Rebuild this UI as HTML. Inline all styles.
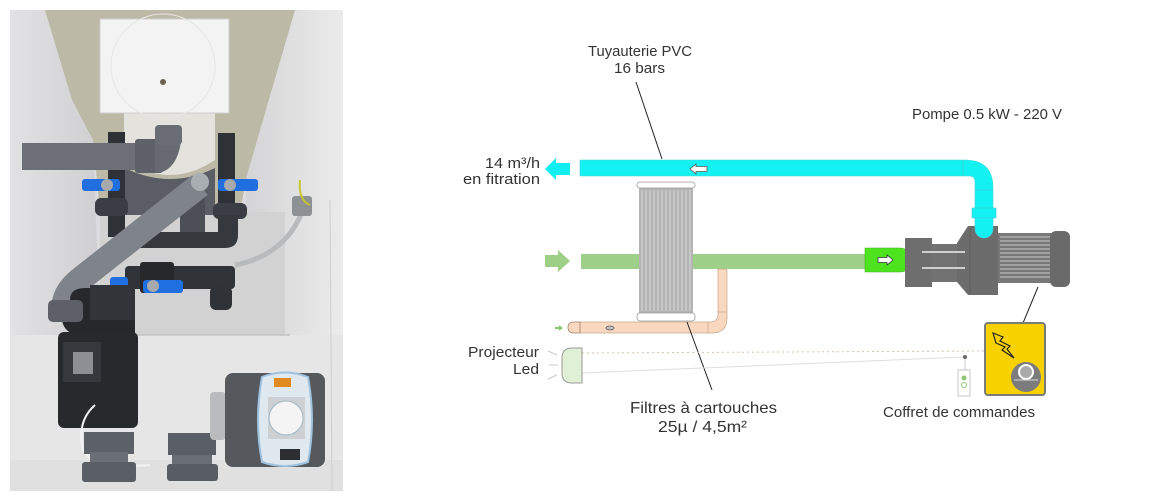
<!DOCTYPE html>
<html><head><meta charset="utf-8"><style>
html,body{margin:0;padding:0;background:#fff;width:1158px;height:501px;overflow:hidden}
svg{display:block}
text{font-family:"Liberation Sans",sans-serif;fill:#333}
</style></head><body>
<svg width="1158" height="501" viewBox="0 0 1158 501" xmlns="http://www.w3.org/2000/svg">
<!-- PHOTO -->
<defs>
<clipPath id="ph"><rect x="10" y="10" width="333" height="481"/></clipPath>
<linearGradient id="lw" x1="0" x2="1"><stop offset="0" stop-color="#e2e2e4"/><stop offset="1" stop-color="#cfcfd2"/></linearGradient>
<linearGradient id="rw" x1="0" x2="1"><stop offset="0" stop-color="#d4d4d6"/><stop offset="1" stop-color="#ebebeb"/></linearGradient>
</defs>
<g clip-path="url(#ph)">
<rect x="10" y="10" width="333" height="481" fill="#dcdcde"/>
<polygon points="10,10 45,10 72,100 93,140 100,330 50,491 10,491" fill="url(#lw)"/>
<polygon points="295,10 343,10 343,491 290,491 285,335 245,215 247,175" fill="url(#rw)"/>
<polygon points="45,10 295,10 247,175 240,212 100,212 93,140 72,100" fill="#bcb9a6"/>
<rect x="100" y="212" width="185" height="123" fill="#d2d2d3"/>
<rect x="10" y="335" width="333" height="156" fill="#e6e6e7"/>
<rect x="10" y="460" width="333" height="31" fill="#e0e0e1"/>
<line x1="135" y1="335" x2="290" y2="335" stroke="#c4c4c4" stroke-width="1.5"/>
<line x1="330" y1="200" x2="332" y2="491" stroke="#cfcfcf"/>
<!-- lid + cylinder -->
<path d="M124 113 H215 V160 Q170 190 124 160 Z" fill="#e4e2dc"/>
<rect x="100" y="19" width="129" height="94" fill="#f3f3f3" stroke="#cfcfcf"/>
<circle cx="163" cy="66" r="52" fill="none" stroke="#e6e6e6"/>
<circle cx="163" cy="82" r="3" fill="#6b6350"/>
<!-- filter base -->
<path d="M125 168 Q170 190 215 168 V215 H125 Z" fill="#5a5e64"/>
<rect x="180" y="195" width="25" height="50" fill="#4c5056"/>
<!-- dark pipes -->
<rect x="108" y="132" width="17" height="105" fill="#2e3135"/>
<rect x="218" y="133" width="17" height="90" fill="#2e3135"/>
<rect x="95" y="198" width="33" height="18" rx="6" fill="#3a3e44"/>
<rect x="213" y="203" width="34" height="16" rx="6" fill="#3a3e44"/>
<path d="M218 215 H238 V235 Q238 248 225 248 H140 V232 H218 Z" fill="#35393e"/>
<rect x="125" y="266" width="110" height="23" rx="4" fill="#303338"/>
<rect x="140" y="262" width="34" height="31" rx="3" fill="#26282b"/>
<rect x="210" y="286" width="22" height="24" rx="6" fill="#2f3236"/>
<!-- grey horizontal pipe -->
<rect x="22" y="143" width="135" height="27" fill="#6c7076"/>
<rect x="135" y="139" width="28" height="34" rx="3" fill="#5e6268"/>
<path d="M155 139 H182 V125 Q182 165 162 172 H155 Z" fill="#676b71"/>
<rect x="155" y="125" width="27" height="20" rx="4" fill="#6a6e74"/>
<!-- diagonal clear pipe -->
<path d="M200 185 L82 278 Q58 296 66 318" fill="none" stroke="#7f848b" stroke-width="25" stroke-linecap="butt"/>
<circle cx="200" cy="182" r="9" fill="#a9aeb3"/>
<!-- blue valve handles -->
<rect x="82" y="179" width="38" height="12" rx="3" fill="#1f6fe0"/>
<circle cx="107" cy="185" r="6" fill="#a7a9ad"/>
<rect x="218" y="179" width="40" height="12" rx="3" fill="#1f6fe0"/>
<circle cx="230" cy="185" r="6" fill="#a7a9ad"/>
<rect x="110" y="277" width="18" height="11" rx="3" fill="#1f6fe0"/>
<rect x="143" y="280" width="40" height="13" rx="3" fill="#1f6fe0"/>
<circle cx="153" cy="286" r="6" fill="#a7a9ad"/>
<!-- grey hose -->
<path d="M235 265 Q285 255 302 212" fill="none" stroke="#b8babc" stroke-width="5"/>
<rect x="292" y="196" width="20" height="20" rx="3" fill="#8e9194"/>
<path d="M300 180 Q298 200 310 205" fill="none" stroke="#c6c630" stroke-width="2"/>
<!-- pump head -->
<path d="M70 300 Q70 288 85 288 H135 V335 H75 Q62 330 62 318 Z" fill="#26282b"/>
<rect x="90" y="285" width="45" height="35" fill="#313438"/>
<rect x="48" y="300" width="35" height="22" rx="5" fill="#5d6167"/>
<!-- motor -->
<rect x="58" y="332" width="80" height="96" rx="6" fill="#27292c"/>
<rect x="63" y="342" width="38" height="40" fill="#35383c"/>
<rect x="73" y="352" width="20" height="22" fill="#8c8f93"/>
<path d="M95 405 Q78 420 82 445 Q85 470 150 465" fill="none" stroke="#f3f3f3" stroke-width="2"/>
<!-- fittings -->
<rect x="84" y="432" width="50" height="22" fill="#5c6168"/>
<rect x="90" y="452" width="38" height="10" fill="#6a6f75"/>
<rect x="82" y="462" width="54" height="20" rx="3" fill="#5a5f66"/>
<rect x="168" y="433" width="48" height="22" fill="#5a5f66"/>
<rect x="172" y="455" width="40" height="10" fill="#6a6f75"/>
<rect x="167" y="464" width="51" height="17" rx="3" fill="#585d64"/>
<!-- control box -->
<rect x="210" y="392" width="16" height="48" rx="4" fill="#b9bbbe"/>
<rect x="225" y="373" width="100" height="94" rx="8" fill="#55595e"/>
<path d="M262 377 Q285 368 308 377 Q316 420 308 462 Q285 470 262 462 Q254 420 262 377 Z" fill="#dfe7ef" stroke="#9fc3df" stroke-width="2"/>
<rect x="274" y="378" width="17" height="9" fill="#e08a20"/>
<rect x="268" y="397" width="37" height="42" fill="#cdd0d2"/>
<circle cx="286" cy="418" r="17" fill="#f4f4f4" stroke="#9fb7c8"/>
<rect x="280" y="449" width="20" height="11" fill="#2c2e31"/>
</g>

<!-- DIAGRAM -->
<!-- labels -->
<text x="588" y="56" font-size="15" textLength="104" lengthAdjust="spacingAndGlyphs">Tuyauterie PVC</text>
<text x="614" y="73" font-size="15" textLength="51" lengthAdjust="spacingAndGlyphs">16 bars</text>
<line x1="636" y1="82" x2="662" y2="159" stroke="#222" stroke-width="1"/>
<text x="485" y="168" font-size="15" textLength="55" lengthAdjust="spacingAndGlyphs">14 m³/h</text>
<text x="463" y="184" font-size="15" textLength="77" lengthAdjust="spacingAndGlyphs">en fitration</text>
<text x="912" y="119" font-size="15" textLength="150" lengthAdjust="spacingAndGlyphs">Pompe 0.5 kW - 220 V</text>
<text x="468" y="357" font-size="15" textLength="71" lengthAdjust="spacingAndGlyphs">Projecteur</text>
<text x="513" y="374" font-size="15" textLength="26" lengthAdjust="spacingAndGlyphs">Led</text>
<text x="630" y="413" font-size="16" textLength="147" lengthAdjust="spacingAndGlyphs">Filtres à cartouches</text>
<text x="658" y="432" font-size="16" textLength="89" lengthAdjust="spacingAndGlyphs">25µ / 4,5m²</text>
<text x="883" y="417" font-size="15" textLength="152" lengthAdjust="spacingAndGlyphs">Coffret de commandes</text>

<!-- cyan pipe -->
<polygon points="545,169 556,158 556,163 570,163 570,175 556,175 556,180" fill="#12eef0"/>
<path d="M580 160 H965 Q993 160 993 188 V208 H975 V182 Q975 176 969 176 H580 Z" fill="#14f1f3" stroke="#3fd6d8" stroke-width="0.6"/>
<line x1="963" y1="160" x2="963" y2="176" stroke="#3ccfd1" stroke-width="0.8"/>
<line x1="975" y1="190" x2="993" y2="190" stroke="#3ccfd1" stroke-width="0.8"/>
<polygon points="690,169 696,164 696,166.5 707,166.5 707,171.5 696,171.5 696,174" fill="#fff" stroke="#555" stroke-width="0.8"/>

<!-- green pipe -->
<polygon points="570,261 558,250 558,255 545,255 545,267 558,267 558,272" fill="#9dcf86"/>
<rect x="581" y="254" width="290" height="15" fill="#9fd08a"/>

<!-- peach pipe -->
<path d="M718 269 H727 V318 Q727 333 712 333 H580 V322 H710 Q718 322 718 314 Z" fill="#fad8c0" stroke="#c8a68e" stroke-width="0.7"/>
<line x1="718" y1="312" x2="727" y2="312" stroke="#c8a68e" stroke-width="0.7"/>
<line x1="708" y1="322" x2="708" y2="333" stroke="#c8a68e" stroke-width="0.7"/>
<path d="M580 322 H574 Q568 322 568 327.5 Q568 333 574 333 H580 Z" fill="#fad8c0" stroke="#a08070" stroke-width="0.8"/>
<polygon points="563,328 559,325 559,327 555,327 555,329 559,329 559,331" fill="#8cc874"/>
<ellipse cx="610" cy="328" rx="4" ry="2" fill="#bbb" stroke="#666" stroke-width="0.8"/>

<!-- filter -->
<rect x="639" y="188" width="54" height="125" fill="#b4b4b4"/>
<g stroke="#d8d8d8" stroke-width="1">
<line x1="642" y1="190" x2="642" y2="311"/><line x1="646" y1="190" x2="646" y2="311"/><line x1="650" y1="190" x2="650" y2="311"/><line x1="654" y1="190" x2="654" y2="311"/><line x1="658" y1="190" x2="658" y2="311"/><line x1="662" y1="190" x2="662" y2="311"/><line x1="666" y1="190" x2="666" y2="311"/><line x1="670" y1="190" x2="670" y2="311"/><line x1="674" y1="190" x2="674" y2="311"/><line x1="678" y1="190" x2="678" y2="311"/><line x1="682" y1="190" x2="682" y2="311"/><line x1="686" y1="190" x2="686" y2="311"/><line x1="690" y1="190" x2="690" y2="311"/>
</g>
<rect x="637" y="182" width="58" height="6" rx="3" fill="#fff" stroke="#999" stroke-width="0.8"/>
<rect x="637" y="313" width="58" height="8" rx="3" fill="#fff" stroke="#999" stroke-width="0.8"/>
<line x1="687" y1="322" x2="712" y2="390" stroke="#222" stroke-width="1"/>

<!-- pump -->
<path d="M865 248 H900 A12 12 0 0 1 900 272 H865 Z" fill="#4de31e" stroke="#3bb81a" stroke-width="0.6"/>
<polygon points="893,260 887,255 887,257.5 878,257.5 878,262.5 887,262.5 887,265" fill="#fff" stroke="#333" stroke-width="0.8"/>
<rect x="905" y="238" width="27" height="49" fill="#6e6e6e"/>
<rect x="931" y="244" width="28" height="38" fill="#727272"/>
<polygon points="957,243 968,226 998,226 998,295 968,295 957,282" fill="#6c6c6c"/>
<line x1="970" y1="228" x2="970" y2="294" stroke="#5e5e5e" stroke-width="1"/>
<line x1="922" y1="252" x2="965" y2="252" stroke="#cfcfcf" stroke-width="2"/>
<line x1="922" y1="268" x2="965" y2="268" stroke="#cfcfcf" stroke-width="2"/>
<rect x="998" y="233" width="54" height="50" fill="#787878"/>
<g stroke="#b8b8b8" stroke-width="1.2">
<line x1="1000" y1="237" x2="1050" y2="237"/><line x1="1000" y1="241" x2="1050" y2="241"/><line x1="1000" y1="245" x2="1050" y2="245"/><line x1="1000" y1="249" x2="1050" y2="249"/><line x1="1000" y1="253" x2="1050" y2="253"/><line x1="1000" y1="257" x2="1050" y2="257"/><line x1="1000" y1="261" x2="1050" y2="261"/><line x1="1000" y1="265" x2="1050" y2="265"/><line x1="1000" y1="269" x2="1050" y2="269"/><line x1="1000" y1="273" x2="1050" y2="273"/><line x1="1000" y1="277" x2="1050" y2="277"/>
</g>
<rect x="1050" y="231" width="20" height="56" rx="6" fill="#6a6a6a"/>
<rect x="972" y="208" width="24" height="10" fill="#14f1f3" stroke="#3ccfd1" stroke-width="0.6"/>
<path d="M975 218 H993 V229 A9 9 0 0 1 975 229 Z" fill="#14f1f3" stroke="#3ccfd1" stroke-width="0.6"/>
<line x1="1038" y1="287" x2="1023" y2="323" stroke="#222" stroke-width="1"/>

<!-- lamp & lines -->
<line x1="582" y1="353" x2="985" y2="351" stroke="#d6c4aa" stroke-width="1" stroke-dasharray="2,3"/>
<line x1="582" y1="373" x2="965" y2="357" stroke="#dedede" stroke-width="1"/>
<path d="M582 348 H572 Q562 348 562 358 V373 Q562 383 572 383 H582 Z" fill="#e0f0d6" stroke="#9a9a9a" stroke-width="1"/>
<g stroke="#c8c8c8" stroke-width="1"><line x1="548" y1="351" x2="557" y2="355"/><line x1="549" y1="365" x2="558" y2="365"/><line x1="548" y1="379" x2="557" y2="375"/></g>
<circle cx="965" cy="357" r="2" fill="#666"/>
<line x1="965" y1="359" x2="965" y2="370" stroke="#ccc"/>
<rect x="958" y="370" width="12" height="26" fill="#fff" stroke="#c4c4c4"/>
<circle cx="964" cy="378" r="2.5" fill="#8cc874"/>
<circle cx="964" cy="385" r="2.5" fill="#fff" stroke="#8cc874"/>

<!-- coffret -->
<rect x="985" y="323" width="60" height="72" rx="3" fill="#f8d200" stroke="#7a7a7a" stroke-width="2"/>
<path d="M993 333 L1003 337 L1000 341 L1010 346 L1007 349 L1014 358 L1002 350 L1005 347 L996 343 Z" fill="#f8d200" stroke="#222" stroke-width="1.2"/>
<circle cx="1026" cy="377" r="15" fill="#7c7c7c"/>
<circle cx="1026" cy="372" r="7" fill="#aaa" stroke="#fff" stroke-width="2"/>
<line x1="1014" y1="380" x2="1038" y2="380" stroke="#ddd" stroke-width="1"/>
</svg>
</body></html>
